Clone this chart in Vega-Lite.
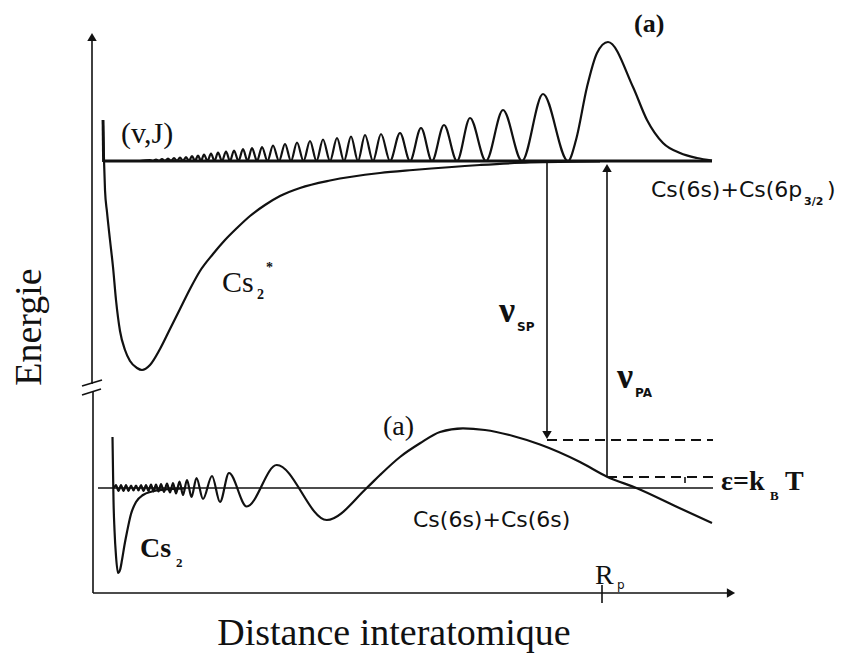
{
  "$schema": "https://vega.github.io/schema/vega-lite/v6.json",
  "width": 841,
  "height": 665,
  "autosize": {"type": "fit", "contains": "padding"},
  "padding": 0,
  "background": "white",
  "config": {"view": {"stroke": null}},
  "datasets": {
    "curves": [
      {"id": "upot", "x": 103, "y": 120}, {"id": "upot", "x": 104, "y": 160}, {"id": "upot", "x": 105, "y": 190}, {"id": "upot", "x": 107, "y": 212}, {"id": "upot", "x": 110, "y": 240}, {"id": "upot", "x": 113, "y": 267}, {"id": "upot", "x": 116, "y": 300}, {"id": "upot", "x": 120, "y": 331}, {"id": "upot", "x": 125, "y": 350}, {"id": "upot", "x": 130, "y": 361}, {"id": "upot", "x": 137, "y": 368}, {"id": "upot", "x": 142, "y": 370}, {"id": "upot", "x": 150, "y": 365}, {"id": "upot", "x": 160, "y": 349}, {"id": "upot", "x": 170, "y": 329}, {"id": "upot", "x": 180, "y": 309}, {"id": "upot", "x": 190, "y": 289}, {"id": "upot", "x": 200, "y": 271}, {"id": "upot", "x": 213, "y": 254}, {"id": "upot", "x": 225, "y": 240}, {"id": "upot", "x": 237, "y": 228}, {"id": "upot", "x": 250, "y": 216}, {"id": "upot", "x": 265, "y": 205}, {"id": "upot", "x": 280, "y": 196}, {"id": "upot", "x": 300, "y": 188}, {"id": "upot", "x": 330, "y": 180.5}, {"id": "upot", "x": 380, "y": 173}, {"id": "upot", "x": 413, "y": 170}, {"id": "upot", "x": 480, "y": 165}, {"id": "upot", "x": 530, "y": 162.5}, {"id": "upot", "x": 600, "y": 161.5},

      {"id": "uwave", "x": 140, "y": 161}, {"id": "uwave", "x": 150, "y": 160}, {"id": "uwave", "x": 153, "y": 161}, {"id": "uwave", "x": 156, "y": 159.5}, {"id": "uwave", "x": 159, "y": 161}, {"id": "uwave", "x": 162, "y": 159}, {"id": "uwave", "x": 165, "y": 161}, {"id": "uwave", "x": 168, "y": 158.5}, {"id": "uwave", "x": 171, "y": 161}, {"id": "uwave", "x": 174, "y": 158}, {"id": "uwave", "x": 177, "y": 161}, {"id": "uwave", "x": 180, "y": 157.5}, {"id": "uwave", "x": 183, "y": 161}, {"id": "uwave", "x": 186, "y": 157}, {"id": "uwave", "x": 189, "y": 161}, {"id": "uwave", "x": 192, "y": 156}, {"id": "uwave", "x": 195, "y": 161}, {"id": "uwave", "x": 198, "y": 155.5}, {"id": "uwave", "x": 201, "y": 161}, {"id": "uwave", "x": 204, "y": 154.5}, {"id": "uwave", "x": 207.5, "y": 161}, {"id": "uwave", "x": 211, "y": 153.5}, {"id": "uwave", "x": 214.5, "y": 161}, {"id": "uwave", "x": 218, "y": 152.5}, {"id": "uwave", "x": 222, "y": 161}, {"id": "uwave", "x": 226, "y": 151.5}, {"id": "uwave", "x": 230, "y": 161}, {"id": "uwave", "x": 234, "y": 150.5}, {"id": "uwave", "x": 238.5, "y": 161}, {"id": "uwave", "x": 243, "y": 149}, {"id": "uwave", "x": 247.5, "y": 161}, {"id": "uwave", "x": 252, "y": 148}, {"id": "uwave", "x": 257, "y": 161}, {"id": "uwave", "x": 262, "y": 147}, {"id": "uwave", "x": 267.5, "y": 161}, {"id": "uwave", "x": 273, "y": 145.5}, {"id": "uwave", "x": 279, "y": 161}, {"id": "uwave", "x": 285, "y": 144}, {"id": "uwave", "x": 291, "y": 161}, {"id": "uwave", "x": 297, "y": 142.5}, {"id": "uwave", "x": 303.5, "y": 161}, {"id": "uwave", "x": 310, "y": 141}, {"id": "uwave", "x": 316.5, "y": 161}, {"id": "uwave", "x": 323, "y": 139.5}, {"id": "uwave", "x": 330, "y": 161}, {"id": "uwave", "x": 337, "y": 138}, {"id": "uwave", "x": 344, "y": 161}, {"id": "uwave", "x": 351, "y": 136.5}, {"id": "uwave", "x": 358, "y": 161}, {"id": "uwave", "x": 365, "y": 135}, {"id": "uwave", "x": 373, "y": 161}, {"id": "uwave", "x": 381, "y": 134}, {"id": "uwave", "x": 390, "y": 161}, {"id": "uwave", "x": 400, "y": 133}, {"id": "uwave", "x": 410, "y": 161}, {"id": "uwave", "x": 421, "y": 128}, {"id": "uwave", "x": 432, "y": 161}, {"id": "uwave", "x": 444, "y": 125}, {"id": "uwave", "x": 457, "y": 161}, {"id": "uwave", "x": 470, "y": 118}, {"id": "uwave", "x": 486, "y": 161}, {"id": "uwave", "x": 503, "y": 110}, {"id": "uwave", "x": 522, "y": 161}, {"id": "uwave", "x": 543, "y": 94}, {"id": "uwave", "x": 568, "y": 161}, {"id": "uwave", "x": 576, "y": 140}, {"id": "uwave", "x": 587, "y": 87}, {"id": "uwave", "x": 597, "y": 53}, {"id": "uwave", "x": 608, "y": 42}, {"id": "uwave", "x": 633, "y": 87}, {"id": "uwave", "x": 647, "y": 120}, {"id": "uwave", "x": 663, "y": 143}, {"id": "uwave", "x": 680, "y": 153}, {"id": "uwave", "x": 697, "y": 158}, {"id": "uwave", "x": 712, "y": 160.5},

      {"id": "lwave", "x": 114, "y": 488}, {"id": "lwave", "x": 116, "y": 485}, {"id": "lwave", "x": 118.5, "y": 491}, {"id": "lwave", "x": 121, "y": 485}, {"id": "lwave", "x": 123.5, "y": 491}, {"id": "lwave", "x": 126, "y": 485}, {"id": "lwave", "x": 128.5, "y": 491}, {"id": "lwave", "x": 131, "y": 485.5}, {"id": "lwave", "x": 133.5, "y": 490.5}, {"id": "lwave", "x": 136, "y": 485.5}, {"id": "lwave", "x": 138.5, "y": 490.5}, {"id": "lwave", "x": 141, "y": 485}, {"id": "lwave", "x": 143.5, "y": 491}, {"id": "lwave", "x": 146, "y": 485}, {"id": "lwave", "x": 148.5, "y": 491}, {"id": "lwave", "x": 151, "y": 484.5}, {"id": "lwave", "x": 153.5, "y": 491.5}, {"id": "lwave", "x": 156, "y": 484.5}, {"id": "lwave", "x": 158.5, "y": 491.5}, {"id": "lwave", "x": 161, "y": 484}, {"id": "lwave", "x": 164, "y": 492}, {"id": "lwave", "x": 167, "y": 483.5}, {"id": "lwave", "x": 170, "y": 492.5}, {"id": "lwave", "x": 173, "y": 483}, {"id": "lwave", "x": 176, "y": 493.5}, {"id": "lwave", "x": 179.5, "y": 481.5}, {"id": "lwave", "x": 183, "y": 495}, {"id": "lwave", "x": 187, "y": 480}, {"id": "lwave", "x": 191.5, "y": 497}, {"id": "lwave", "x": 196.5, "y": 478}, {"id": "lwave", "x": 203, "y": 499}, {"id": "lwave", "x": 212, "y": 476}, {"id": "lwave", "x": 220, "y": 502}, {"id": "lwave", "x": 229, "y": 473}, {"id": "lwave", "x": 246.7, "y": 506.5}, {"id": "lwave", "x": 276.7, "y": 465}, {"id": "lwave", "x": 326.7, "y": 520}, {"id": "lwave", "x": 366.7, "y": 488}, {"id": "lwave", "x": 380, "y": 475}, {"id": "lwave", "x": 400, "y": 457}, {"id": "lwave", "x": 420, "y": 443.3}, {"id": "lwave", "x": 440, "y": 432}, {"id": "lwave", "x": 463, "y": 428.3}, {"id": "lwave", "x": 485, "y": 430}, {"id": "lwave", "x": 513, "y": 436}, {"id": "lwave", "x": 540, "y": 444.5}, {"id": "lwave", "x": 580, "y": 462}, {"id": "lwave", "x": 607, "y": 476.7}, {"id": "lwave", "x": 637, "y": 488.3}, {"id": "lwave", "x": 675, "y": 506}, {"id": "lwave", "x": 712, "y": 523},

      {"id": "lpot", "x": 112.5, "y": 437}, {"id": "lpot", "x": 113, "y": 470}, {"id": "lpot", "x": 113.5, "y": 500}, {"id": "lpot", "x": 114.5, "y": 530}, {"id": "lpot", "x": 116, "y": 556}, {"id": "lpot", "x": 118, "y": 573}, {"id": "lpot", "x": 120, "y": 570}, {"id": "lpot", "x": 122, "y": 560}, {"id": "lpot", "x": 124.5, "y": 545}, {"id": "lpot", "x": 127, "y": 532}, {"id": "lpot", "x": 131, "y": 514}, {"id": "lpot", "x": 136, "y": 502}, {"id": "lpot", "x": 143, "y": 495}, {"id": "lpot", "x": 152, "y": 491.5}, {"id": "lpot", "x": 165, "y": 489.5}, {"id": "lpot", "x": 185, "y": 488.5}
    ],
    "segs": [
      {"id": "yaxis_top", "x": 92, "y": 36, "x2": 92, "y2": 384},
      {"id": "yaxis_bot", "x": 93, "y": 391, "x2": 93, "y2": 593},
      {"id": "break1", "x": 82, "y": 386, "x2": 102, "y2": 380},
      {"id": "break2", "x": 82, "y": 395, "x2": 101, "y2": 389},
      {"id": "xaxis", "x": 93, "y": 593, "x2": 730, "y2": 593},
      {"id": "rp_tick", "x": 602, "y": 585, "x2": 602, "y2": 603},
      {"id": "lower_base", "x": 98, "y": 488, "x2": 713, "y2": 488},
      {"id": "vsp", "x": 547, "y": 161, "x2": 547, "y2": 434},
      {"id": "vpa", "x": 607, "y": 477, "x2": 607, "y2": 168},
      {"id": "eps_tick", "x": 685, "y": 477, "x2": 685, "y2": 483}
    ],
    "thick": [
      {"id": "upper_base", "x": 103, "y": 161, "x2": 712, "y2": 161},
      {"id": "upper_wall", "x": 103, "y": 120, "x2": 103.5, "y2": 162}
    ],
    "dashed": [
      {"id": "d1", "x": 547, "y": 440, "x2": 713, "y2": 440},
      {"id": "d2", "x": 607, "y": 477, "x2": 713, "y2": 477}
    ],
    "heads": [
      {"x": 92, "y": 37, "dir": "up"},
      {"x": 731, "y": 593, "dir": "right"},
      {"x": 547, "y": 435, "dir": "down"},
      {"x": 607, "y": 168, "dir": "up"}
    ]
  },
  "layer": [
    {
      "data": {"name": "curves"},
      "mark": {"type": "line", "interpolate": "monotone", "color": "#111", "strokeWidth": 2.2},
      "encoding": {
        "x": {"field": "x", "type": "quantitative", "scale": {"domain": [0, 841], "nice": false, "zero": false}, "axis": null},
        "y": {"field": "y", "type": "quantitative", "scale": {"domain": [0, 665], "reverse": true, "nice": false, "zero": false}, "axis": null},
        "detail": {"field": "id", "type": "nominal"}
      }
    },
    {
      "data": {"name": "segs"},
      "mark": {"type": "rule", "color": "#111", "strokeWidth": 1.6},
      "encoding": {
        "x": {"field": "x", "type": "quantitative"},
        "y": {"field": "y", "type": "quantitative"},
        "x2": {"field": "x2"},
        "y2": {"field": "y2"}
      }
    },
    {
      "data": {"name": "thick"},
      "mark": {"type": "rule", "color": "#111", "strokeWidth": 2.8},
      "encoding": {
        "x": {"field": "x", "type": "quantitative"},
        "y": {"field": "y", "type": "quantitative"},
        "x2": {"field": "x2"},
        "y2": {"field": "y2"}
      }
    },
    {
      "data": {"name": "dashed"},
      "mark": {"type": "rule", "color": "#111", "strokeWidth": 2, "strokeDash": [10, 6]},
      "encoding": {
        "x": {"field": "x", "type": "quantitative"},
        "y": {"field": "y", "type": "quantitative"},
        "x2": {"field": "x2"},
        "y2": {"field": "y2"}
      }
    },
    {
      "data": {"name": "heads"},
      "mark": {"type": "point", "filled": true, "color": "#111", "size": 90, "opacity": 1},
      "encoding": {
        "x": {"field": "x", "type": "quantitative"},
        "y": {"field": "y", "type": "quantitative"},
        "shape": {"field": "dir", "type": "nominal", "scale": {"domain": ["up", "down", "right"], "range": ["triangle-up", "triangle-down", "triangle-right"]}, "legend": null}
      }
    },
    {
      "data": {"values": [{"x": 634, "y": 32, "t": "(a)"}]},
      "mark": {"type": "text", "font": "Liberation Serif", "fontWeight": "bold", "fontSize": 26, "align": "left", "baseline": "alphabetic", "color": "#111"},
      "encoding": {"x": {"field": "x", "type": "quantitative"}, "y": {"field": "y", "type": "quantitative"}, "text": {"field": "t"}}
    },
    {
      "data": {"values": [{"x": 121, "y": 143, "t": "(v,J)"}]},
      "mark": {"type": "text", "font": "Liberation Serif", "fontSize": 30, "align": "left", "baseline": "alphabetic", "color": "#111"},
      "encoding": {"x": {"field": "x", "type": "quantitative"}, "y": {"field": "y", "type": "quantitative"}, "text": {"field": "t"}}
    },
    {
      "data": {"values": [{"x": 383, "y": 435, "t": "(a)"}]},
      "mark": {"type": "text", "font": "Liberation Serif", "fontSize": 28, "align": "left", "baseline": "alphabetic", "color": "#111"},
      "encoding": {"x": {"field": "x", "type": "quantitative"}, "y": {"field": "y", "type": "quantitative"}, "text": {"field": "t"}}
    },
    {
      "data": {"values": [{"x": 651, "y": 197, "t": "Cs(6s)+Cs(6p"}, {"x": 827, "y": 197, "t": ")"}, {"x": 413, "y": 527, "t": "Cs(6s)+Cs(6s)"}]},
      "mark": {"type": "text", "font": "DejaVu Sans", "fontSize": 22, "align": "left", "baseline": "alphabetic", "color": "#111"},
      "encoding": {"x": {"field": "x", "type": "quantitative"}, "y": {"field": "y", "type": "quantitative"}, "text": {"field": "t"}}
    },
    {
      "data": {"values": [{"x": 804, "y": 205, "t": "3/2"}]},
      "mark": {"type": "text", "font": "DejaVu Sans", "fontWeight": "bold", "fontSize": 11, "align": "left", "baseline": "alphabetic", "color": "#111"},
      "encoding": {"x": {"field": "x", "type": "quantitative"}, "y": {"field": "y", "type": "quantitative"}, "text": {"field": "t"}}
    },
    {
      "data": {"values": [{"x": 222, "y": 292, "t": "Cs"}]},
      "mark": {"type": "text", "font": "Liberation Serif", "fontSize": 30, "align": "left", "baseline": "alphabetic", "color": "#111"},
      "encoding": {"x": {"field": "x", "type": "quantitative"}, "y": {"field": "y", "type": "quantitative"}, "text": {"field": "t"}}
    },
    {
      "data": {"values": [{"x": 257, "y": 299, "t": "2"}, {"x": 266, "y": 272, "t": "*"}]},
      "mark": {"type": "text", "font": "Liberation Serif", "fontWeight": "bold", "fontSize": 14, "align": "left", "baseline": "alphabetic", "color": "#111"},
      "encoding": {"x": {"field": "x", "type": "quantitative"}, "y": {"field": "y", "type": "quantitative"}, "text": {"field": "t"}}
    },
    {
      "data": {"values": [{"x": 499, "y": 322, "t": "ν"}, {"x": 617, "y": 388, "t": "ν"}]},
      "mark": {"type": "text", "font": "Liberation Serif", "fontWeight": "bold", "fontSize": 36, "align": "left", "baseline": "alphabetic", "color": "#111"},
      "encoding": {"x": {"field": "x", "type": "quantitative"}, "y": {"field": "y", "type": "quantitative"}, "text": {"field": "t"}}
    },
    {
      "data": {"values": [{"x": 517, "y": 331, "t": "SP"}, {"x": 635, "y": 397, "t": "PA"}]},
      "mark": {"type": "text", "font": "DejaVu Sans", "fontWeight": "bold", "fontSize": 12, "align": "left", "baseline": "alphabetic", "color": "#111"},
      "encoding": {"x": {"field": "x", "type": "quantitative"}, "y": {"field": "y", "type": "quantitative"}, "text": {"field": "t"}}
    },
    {
      "data": {"values": [{"x": 721, "y": 490, "t": "ε=k"}, {"x": 785, "y": 490, "t": "T"}, {"x": 140, "y": 557, "t": "Cs"}]},
      "mark": {"type": "text", "font": "Liberation Serif", "fontWeight": "bold", "fontSize": 28, "align": "left", "baseline": "alphabetic", "color": "#111"},
      "encoding": {"x": {"field": "x", "type": "quantitative"}, "y": {"field": "y", "type": "quantitative"}, "text": {"field": "t"}}
    },
    {
      "data": {"values": [{"x": 770, "y": 500, "t": "B"}, {"x": 176, "y": 567, "t": "2"}]},
      "mark": {"type": "text", "font": "Liberation Serif", "fontWeight": "bold", "fontSize": 13, "align": "left", "baseline": "alphabetic", "color": "#111"},
      "encoding": {"x": {"field": "x", "type": "quantitative"}, "y": {"field": "y", "type": "quantitative"}, "text": {"field": "t"}}
    },
    {
      "data": {"values": [{"x": 595, "y": 584, "t": "R"}]},
      "mark": {"type": "text", "font": "Liberation Serif", "fontSize": 28, "align": "left", "baseline": "alphabetic", "color": "#111"},
      "encoding": {"x": {"field": "x", "type": "quantitative"}, "y": {"field": "y", "type": "quantitative"}, "text": {"field": "t"}}
    },
    {
      "data": {"values": [{"x": 617, "y": 589, "t": "p"}]},
      "mark": {"type": "text", "font": "DejaVu Sans", "fontSize": 12, "align": "left", "baseline": "alphabetic", "color": "#111"},
      "encoding": {"x": {"field": "x", "type": "quantitative"}, "y": {"field": "y", "type": "quantitative"}, "text": {"field": "t"}}
    },
    {
      "data": {"values": [{"x": 30, "y": 327, "t": "Energie"}]},
      "mark": {"type": "text", "font": "Liberation Serif", "fontSize": 38, "angle": 270, "align": "center", "baseline": "middle", "color": "#111"},
      "encoding": {"x": {"field": "x", "type": "quantitative"}, "y": {"field": "y", "type": "quantitative"}, "text": {"field": "t"}}
    },
    {
      "data": {"values": [{"x": 394, "y": 645, "t": "Distance interatomique"}]},
      "mark": {"type": "text", "font": "Liberation Serif", "fontSize": 38, "align": "center", "baseline": "alphabetic", "color": "#111"},
      "encoding": {"x": {"field": "x", "type": "quantitative"}, "y": {"field": "y", "type": "quantitative"}, "text": {"field": "t"}}
    }
  ]
}
